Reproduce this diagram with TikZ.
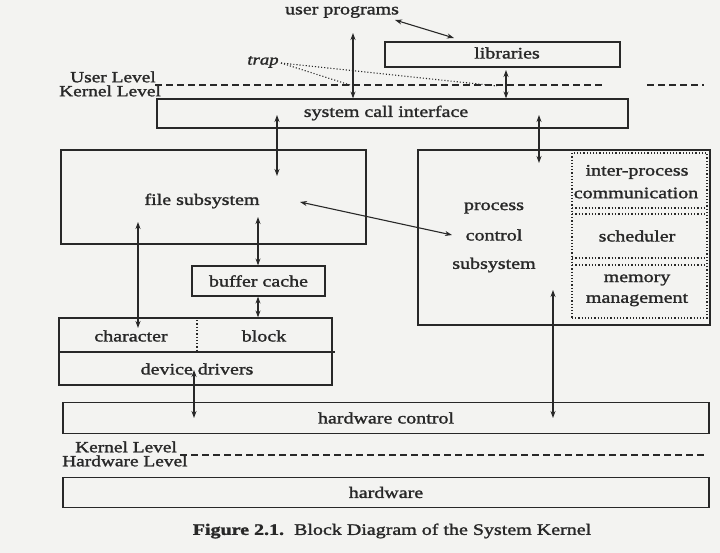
\documentclass[tikz,border=0pt]{standalone}
\usepackage{fontspec}
\setmainfont{Liberation Serif}[FakeStretch=1.25, FakeBold=1.6]
\usetikzlibrary{arrows.meta,calc}
\definecolor{ink}{RGB}{40,40,40}
\definecolor{paper}{RGB}{243,243,241}
\begin{document}
\begin{tikzpicture}[x=1pt,y=-1pt,
  every node/.style={text=ink},
  lbl/.style={font=\fontsize{16}{19}\selectfont, inner sep=0pt},
  lvl/.style={font=\fontsize{15.5}{18}\selectfont, inner sep=0pt, text height=10.5pt, text depth=0pt, anchor=west},
  boxed/.style={draw=ink, line width=1.2pt, inner sep=0pt, font=\fontsize{16}{19}\selectfont},
  dotline/.style={draw=ink, line width=1.3pt, dotted},
  dashline/.style={draw=ink, line width=1.1pt, dash pattern=on 7pt off 4pt},
  conn/.style={draw=ink, line width=1.1pt, {Stealth[length=7pt,width=5pt]}-{Stealth[length=7pt,width=5pt]}},
  trapline/.style={draw=ink, line width=1.1pt, dotted}]
\fill[paper] (0,0) rectangle (720,553);
\useasboundingbox (0,0) rectangle (720,553);

% text labels
\node[lbl] (up) at (342,12) {user programs};
\node[lbl, font=\fontsize{15}{18}\selectfont\itshape] (trap) at (263,62) {trap};
\node[lvl] (ul) at (70,77) {User Level};
\node[lvl] (kl) at (59,91) {Kernel Level};
\node[lvl] (kl2) at (75,447) {Kernel Level};
\node[lvl] (hl) at (62,461) {Hardware Level};
\node[lbl] (cap) at (392,531) {\textbf{Figure 2.1.}\ \ Block Diagram of the System Kernel};

% boxes
\node[boxed, minimum width=235pt, minimum height=25pt] (lib) at (502.5,54.5) {};
\node[lbl] (libt) at (507,53) {libraries};
\node[boxed, minimum width=471pt, minimum height=29pt] (sys) at (392.5,113.5) {};
\node[lbl] (syst) at (386,113) {system call interface};
\node[boxed, minimum width=305pt, minimum height=94pt] (fs) at (213.5,197) {};
\node[lbl] (fst) at (202,201) {file subsystem};
\node[boxed, minimum width=292pt, minimum height=175pt] (pc) at (564,237.5) {};
\node[lbl] (pc1) at (494,208) {process};
\node[lbl] (pc2) at (494,235) {control};
\node[lbl] (pc3) at (494,265) {subsystem};
\node[boxed, dotted, line width=1.3pt, minimum width=135pt, minimum height=165pt] (inner) at (639.5,235.5) {};
\draw[dotline] (572,208) -- (707,208);
\draw[dotline] (572,214) -- (707,214);
\draw[dotline] (572,258) -- (707,258);
\draw[dotline] (572,265) -- (707,265);
\node[lbl] (ip1) at (637,172) {inter-process};
\node[lbl] (ip2) at (636,193) {communication};
\node[lbl] (sch) at (637,236) {scheduler};
\node[lbl] (mm1) at (637,280) {memory};
\node[lbl] (mm2) at (637,300) {management};
\node[boxed, minimum width=133pt, minimum height=30pt] (bc) at (258.5,281) {buffer cache};
\node[boxed, minimum width=273pt, minimum height=67pt] (dd) at (195.5,351.5) {};
\coordinate (sepend) at (335,352);
\draw[draw=ink, line width=1.2pt] (dd.west |- sepend) -- (sepend);
\coordinate (dv1) at (197,320);
\coordinate (dv2) at (197,351);
\draw[dotline] (dv1) -- (dv2);
\node[lbl] (chr) at (131,336) {character};
\node[lbl] (blk) at (264,336) {block};
\node[lbl] (ddt) at (197,369) {device drivers};
\node[boxed, minimum width=646pt, minimum height=31pt] (hwc) at (386,418) {hardware control};
\node[boxed, minimum width=646pt, minimum height=30pt] (hw) at (386,492.5) {hardware};

% dashed level lines
\coordinate (l1a) at (155,85); \coordinate (l1b) at (604,85);
\coordinate (l1c) at (647,85); \coordinate (l1d) at (704,85);
\coordinate (l2a) at (180,455); \coordinate (l2b) at (705,455);
\draw[dashline] (l1a) -- (l1b);
\draw[dashline] (l1c) -- (l1d);
\draw[dashline] (l2a) -- (l2b);

% trap lines
\coordinate (t0) at (281,63);
\coordinate (t1) at (350,85);
\coordinate (t2) at (497,86);
\draw[trapline] (t0) -- (t1);
\draw[trapline] (t0) -- (t2);

% connectors
\coordinate (a1) at (395,20);
\coordinate (a2) at (454,38);
\draw[conn] (a1) -- (a2);
\coordinate (b1) at (353,33);
\draw[conn] (b1) -- (b1 |- sys.north);
\coordinate (k1) at (506,70);
\draw[conn] (k1) -- (k1 |- sys.north);
\coordinate (c1) at (277,115);
\coordinate (c2) at (277,176);
\draw[conn] (c1) -- (c2);
\coordinate (d1) at (539,115);
\coordinate (d2) at (539,163);
\draw[conn] (d1) -- (d2);
\coordinate (e1) at (300,202);
\coordinate (e2) at (452,235);
\draw[conn] (e1) -- (e2);
\coordinate (f1) at (258,217);
\draw[conn] (f1) -- (f1 |- bc.north);
\draw[conn] (f1 |- bc.south) -- (f1 |- dd.north);
\coordinate (g1) at (138,222);
\coordinate (g2) at (138,328);
\draw[conn] (g1) -- (g2);
\coordinate (h1) at (194,370);
\coordinate (h2) at (194,418);
\draw[conn] (h1) -- (h2);
\coordinate (i1) at (553,290);
\coordinate (i2) at (553,418);
\draw[conn] (i1) -- (i2);
\end{tikzpicture}
\end{document}
